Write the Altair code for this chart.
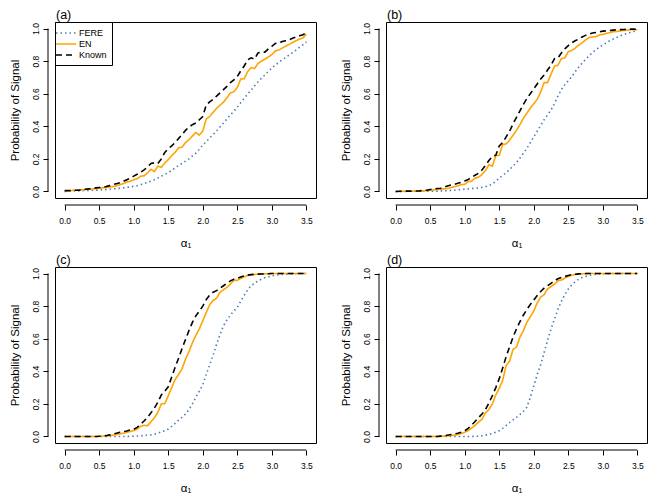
import altair as alt
import pandas as pd

# ---------------- data ----------------
x_vals = [round(i * 0.05, 2) for i in range(71)]   # alpha_1 grid 0.00 .. 3.50
series_names = ["FERE", "EN", "Known"]
panel_labels = ["(a)", "(b)", "(c)", "(d)"]
x_ticks = [0.0, 0.5, 1.0, 1.5, 2.0, 2.5, 3.0, 3.5]
y_ticks = [0.0, 0.2, 0.4, 0.6, 0.8, 1.0]

known_a = [.005, .005, .006, .008, .008, .010, .014, .016, .018, .022,
           .024, .026, .030, .036, .042, .048, .054, .062, .072, .082,
           .094, .106, .118, .132, .150, .172, .176, .172, .200, .240,
           .262, .280, .300, .325, .350, .375, .395, .410, .420, .440,
           .460, .530, .550, .565, .585, .605, .625, .645, .668, .685,
           .705, .740, .770, .808, .820, .812, .850, .855, .855, .875,
           .890, .908, .910, .920, .925, .930, .940, .948, .955, .962,
           .974]
en_a = [.003, .004, .006, .008, .010, .010, .012, .014, .015, .018,
        .020, .022, .024, .028, .030, .034, .042, .048, .058, .062,
        .072, .078, .094, .096, .114, .136, .122, .156, .148, .175,
        .195, .220, .240, .268, .272, .300, .318, .340, .362, .346,
        .370, .445, .460, .485, .510, .530, .548, .575, .605, .612,
        .638, .690, .692, .735, .760, .755, .785, .800, .812, .825,
        .840, .862, .868, .880, .892, .902, .914, .925, .935, .942,
        .965]
fere_a = [.000, .001, .002, .003, .004, .005, .006, .007, .008, .008,
          .009, .010, .012, .014, .016, .018, .020, .022, .025, .028,
          .032, .036, .042, .048, .056, .064, .072, .082, .094, .104,
          .116, .130, .145, .160, .172, .186, .200, .218, .235, .258,
          .285, .305, .328, .350, .372, .396, .420, .445, .470, .492,
          .518, .545, .572, .598, .622, .648, .672, .695, .715, .738,
          .758, .775, .792, .808, .822, .838, .852, .868, .885, .900,
          .918]

known_b = [.000, .001, .002, .002, .002, .002, .003, .004, .006, .008,
           .012, .016, .018, .020, .026, .034, .040, .044, .050, .056,
           .064, .074, .086, .100, .112, .132, .160, .190, .215, .222,
           .280, .300, .335, .370, .415, .455, .495, .535, .570, .600,
           .630, .660, .690, .715, .745, .775, .815, .820, .850, .875,
           .895, .912, .925, .935, .948, .958, .966, .972, .976, .980,
           .984, .986, .988, .990, .992, .993, .994, .995, .996, .997,
           .994]
en_b = [.000, .000, .001, .001, .001, .001, .002, .002, .003, .005,
        .008, .010, .012, .014, .016, .018, .024, .030, .034, .042,
        .044, .060, .064, .082, .088, .104, .128, .165, .155, .220,
        .222, .288, .292, .315, .345, .375, .410, .450, .480, .512,
        .538, .565, .610, .668, .668, .720, .768, .775, .815, .820,
        .858, .865, .880, .898, .912, .930, .945, .948, .950, .960,
        .964, .970, .975, .980, .982, .985, .988, .990, .992, .993,
        .992]
fere_b = [.000, .000, .000, .000, .001, .001, .001, .001, .001, .002,
          .002, .002, .002, .003, .004, .005, .007, .008, .010, .012,
          .014, .016, .018, .020, .022, .025, .030, .036, .046, .062,
          .082, .098, .115, .135, .155, .178, .205, .235, .265, .300,
          .335, .370, .405, .440, .470, .500, .540, .585, .625, .655,
          .680, .705, .735, .762, .788, .810, .832, .852, .870, .886,
          .898, .912, .925, .935, .945, .955, .962, .970, .976, .982,
          .986]

known_c = [.000, .000, .000, .000, .000, .000, .000, .000, .000, .000,
           .001, .003, .005, .010, .014, .020, .026, .030, .034, .040,
           .044, .056, .075, .095, .118, .145, .175, .210, .255, .278,
           .305, .365, .425, .480, .540, .595, .650, .700, .740, .770,
           .800, .840, .868, .885, .895, .910, .925, .940, .955, .965,
           .970, .978, .985, .990, .993, .995, .996, .997, .998, .999,
           1.0, 1.0, 1.0, 1.0, 1.0, 1.0, 1.0, 1.0, 1.0, 1.0,
           1.0]
en_c = [.000, .000, .000, .000, .000, .000, .000, .000, .000, .000,
        .001, .002, .004, .006, .008, .012, .016, .020, .025, .030,
        .036, .045, .062, .068, .066, .090, .115, .150, .200, .202,
        .250, .300, .350, .380, .415, .475, .520, .575, .620, .660,
        .710, .760, .808, .835, .848, .885, .900, .915, .935, .958,
        .958, .970, .980, .988, .992, .994, .996, .997, .998, .999,
        1.0, 1.0, 1.0, 1.0, 1.0, 1.0, 1.0, 1.0, 1.0, 1.0,
        1.0]
fere_c = [.000, .000, .000, .000, .000, .000, .000, .000, .000, .000,
          .000, .000, .000, .000, .000, .000, .000, .000, .000, .001,
          .002, .003, .004, .006, .008, .010, .014, .020, .028, .036,
          .046, .062, .080, .100, .118, .138, .165, .200, .240, .278,
          .318, .380, .440, .500, .565, .625, .680, .715, .745, .770,
          .792, .830, .865, .900, .925, .940, .955, .965, .975, .980,
          .985, .990, .993, .995, .996, .997, .998, .999, 1.0, 1.0,
          1.0]

known_d = [.000, .000, .000, .000, .000, .000, .000, .000, .000, .000,
           .000, .000, .000, .002, .004, .008, .012, .016, .020, .026,
           .034, .050, .070, .092, .115, .138, .165, .205, .250, .300,
           .355, .420, .490, .550, .610, .660, .705, .745, .780, .810,
           .838, .865, .890, .910, .925, .940, .955, .968, .975, .982,
           .988, .993, .996, .998, .999, 1.0, 1.0, 1.0, 1.0, 1.0,
           1.0, 1.0, 1.0, 1.0, 1.0, 1.0, 1.0, 1.0, 1.0, 1.0,
           1.0]
en_d = [.000, .000, .000, .000, .000, .000, .000, .000, .000, .000,
        .000, .000, .000, .001, .002, .004, .006, .008, .012, .018,
        .026, .036, .052, .068, .088, .105, .145, .165, .200, .255,
        .295, .345, .435, .462, .535, .548, .610, .650, .700, .735,
        .770, .820, .855, .870, .905, .920, .935, .955, .960, .972,
        .982, .990, .994, .996, .998, .999, 1.0, 1.0, 1.0, 1.0,
        1.0, 1.0, 1.0, 1.0, 1.0, 1.0, 1.0, 1.0, 1.0, 1.0,
        1.0]
fere_d = [.000, .000, .000, .000, .000, .000, .000, .000, .000, .000,
          .000, .000, .000, .000, .000, .000, .000, .000, .000, .000,
          .000, .000, .000, .001, .002, .004, .008, .012, .018, .026,
          .035, .050, .068, .085, .102, .118, .135, .155, .180, .240,
          .310, .380, .440, .515, .590, .660, .720, .780, .830, .870,
          .905, .930, .950, .965, .975, .982, .988, .992, .995, .997,
          .998, .999, .999, 1.0, 1.0, 1.0, 1.0, 1.0, 1.0, 1.0,
          1.0]

series_colors = ["#4a7db5", "#FFA500", "#000000"]
series_dashes = [[1.5, 3], [1, 0], [6, 4]]
series_widths = [1.6, 1.6, 2.0]

# ---------------- layout ----------------
W, H = 261, 176
FONT = "Liberation Sans"
X_TITLE = "α₁"
Y_TITLE = "Probability of Signal"

xscale = alt.Scale(domain=[-0.14, 3.64], nice=False, zero=False)
yscale = alt.Scale(domain=[-0.04, 1.04], nice=False, zero=False)

x_axis = alt.Axis(values=x_ticks, format=".1f", offset=7,
                  tickSize=5, labelPadding=6, titlePadding=13,
                  domain=False, grid=False)
y_axis = alt.Axis(values=y_ticks, format=".1f", offset=7,
                  tickSize=5, labelPadding=3, titlePadding=11,
                  labelAngle=270, labelAlign="center",
                  labelBaseline="bottom", domain=False, grid=False)


def panel(label, fere, en, known, show_legend):
    rows = []
    for name, vals in zip(series_names, [fere, en, known]):
        assert len(vals) == len(x_vals), (label, name, len(vals))
        for xv, yv in zip(x_vals, vals):
            rows.append({"x": xv, "p": yv, "series": name})
    df = pd.DataFrame(rows)

    if show_legend:
        legend = alt.Legend(
            title=None, orient="none", legendX=0, legendY=0,
            symbolType="M-2,0H2", symbolSize=100, symbolStrokeWidth=1.6,
            labelFontSize=9, labelFont=FONT, labelColor="black",
            strokeColor="black", fillColor="white",
            padding=5, rowPadding=0, labelOffset=7, cornerRadius=0,
        )
    else:
        legend = None

    lines = alt.Chart(df).mark_line().encode(
        x=alt.X("x:Q", scale=xscale, title=X_TITLE, axis=x_axis),
        y=alt.Y("p:Q", scale=yscale, title=Y_TITLE, axis=y_axis),
        color=alt.Color("series:N",
                        scale=alt.Scale(domain=series_names, range=series_colors),
                        legend=legend),
        strokeDash=alt.StrokeDash("series:N",
                                  scale=alt.Scale(domain=series_names, range=series_dashes),
                                  legend=legend),
        strokeWidth=alt.StrokeWidth("series:N",
                                    scale=alt.Scale(domain=series_names, range=series_widths),
                                    legend=None),
    )

    axis_df = pd.DataFrame({"x0": [x_ticks[0]], "x1": [x_ticks[-1]],
                            "y0": [y_ticks[0]], "y1": [y_ticks[-1]]})
    xline = alt.Chart(axis_df).mark_rule(color="black", strokeWidth=1).encode(
        x=alt.X("x0:Q", scale=xscale, title=X_TITLE, axis=x_axis), x2="x1:Q",
        y=alt.value(H + 7))
    yline = alt.Chart(axis_df).mark_rule(color="black", strokeWidth=1).encode(
        y=alt.Y("y0:Q", scale=yscale, title=Y_TITLE, axis=y_axis), y2="y1:Q",
        x=alt.value(-7))

    return alt.layer(lines, xline, yline).properties(
        width=W, height=H,
        title=alt.TitleParams(label, anchor="start", frame="group",
                              fontSize=12.5, fontWeight="normal", font=FONT,
                              color="black", offset=1, dx=1),
    )


pa = panel(panel_labels[0], fere_a, en_a, known_a, True)
pb = panel(panel_labels[1], fere_b, en_b, known_b, False)
pc = panel(panel_labels[2], fere_c, en_c, known_c, False)
pd_ = panel(panel_labels[3], fere_d, en_d, known_d, False)

top = alt.hconcat(pa, pb, spacing=22)
bottom = alt.hconcat(pc, pd_, spacing=22)

chart = alt.vconcat(top, bottom, spacing=3).properties(
    padding={"left": 0, "top": 0, "right": 0, "bottom": 0}
).resolve_legend(
    color="independent", strokeDash="independent", strokeWidth="independent"
).configure(font=FONT).configure_view(
    stroke="black", strokeWidth=1
).configure_axis(
    labelFont=FONT, labelFontSize=8.5, labelColor="black",
    titleFont=FONT, titleFontSize=11.5, titleFontWeight="normal", titleColor="black",
    tickColor="black", tickWidth=1,
)

chart.save("out.html", embed_options={"renderer": "svg", "actions": False})
